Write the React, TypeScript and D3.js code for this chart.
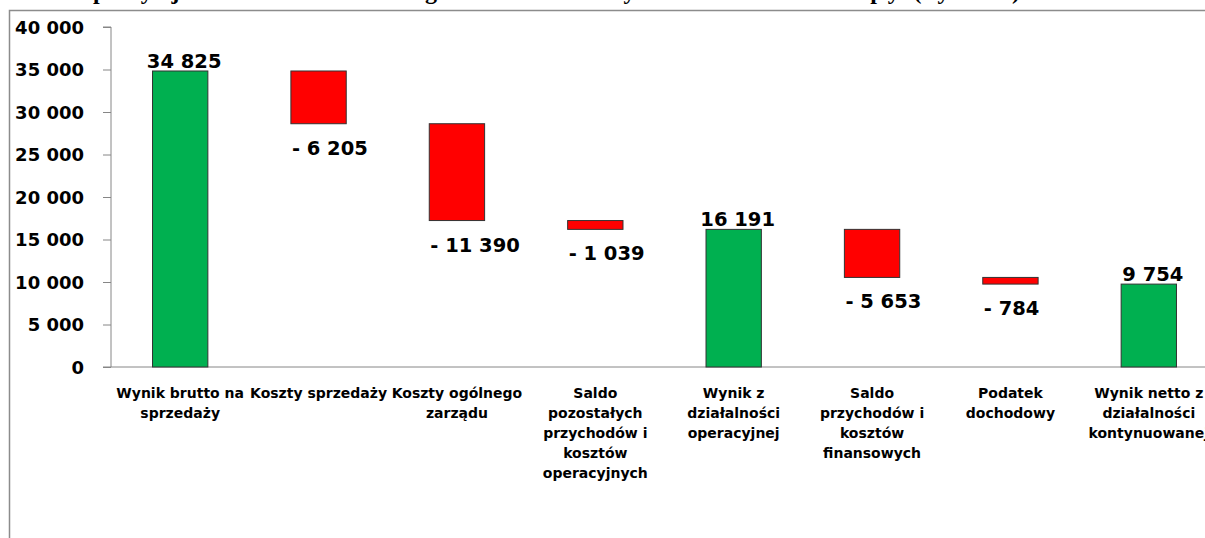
import React, { useEffect, useRef } from 'react';
import * as d3 from 'd3';

const categories = [
  ['Wynik brutto na', 'sprzedaży'],
  ['Koszty sprzedaży'],
  ['Koszty ogólnego', 'zarządu'],
  ['Saldo', 'pozostałych', 'przychodów i', 'kosztów', 'operacyjnych'],
  ['Wynik z', 'działalności', 'operacyjnej'],
  ['Saldo', 'przychodów i', 'kosztów', 'finansowych'],
  ['Podatek', 'dochodowy'],
  ['Wynik netto z', 'działalności', 'kontynuowanej'],
];
const values = [34825, -6205, -11390, -1039, 16191, -5653, -784, 9754];
const isTotal = [true, false, false, false, true, false, false, true];
const yTicks = [0, 5000, 10000, 15000, 20000, 25000, 30000, 35000, 40000];
const title = 'Wybrane pozycje skonsolidowanego rachunku zysków i strat Grupy (tys. zł)';

const W = 1205;
const H = 538;

const App = () => {
  const ref = useRef<SVGSVGElement>(null);

  useEffect(() => {
    if (!ref.current) return;
    const svg = d3.select(ref.current);
    svg.selectAll('*').remove();

    const font = '"DejaVu Sans", sans-serif';
    const locale = d3.formatLocale({ thousands: ' ', grouping: [3], decimal: ',', currency: ['', ''] });
    const fmt = locale.format(',d');

    const x = d3.scaleBand<number>()
      .domain(d3.range(categories.length))
      .range([111, 1218])
      .paddingInner(0.6)
      .paddingOuter(0.3);

    const y = d3.scaleLinear().domain([0, 40000]).range([367, 27]);

    // frame (chart area border, cut by the page)
    svg.append('path')
      .attr('d', `M9.5,${H} V10.5 H${W}`)
      .attr('fill', 'none')
      .attr('stroke', '#8c8c8c')
      .attr('stroke-width', 1.5);

    // title, cut off above the picture
    svg.append('text')
      .attr('x', -40)
      .attr('y', -1.5)
      .attr('font-family', '"Liberation Serif", serif')
      .attr('font-weight', 'bold')
      .attr('font-size', 24)
      .attr('textLength', 1060)
      .text(title);

    // y axis
    const gy = svg.append('g').attr('transform', 'translate(111,0)');
    gy.call(d3.axisLeft(y).tickValues(yTicks).tickSize(8).tickFormat(d => fmt(+d)));
    gy.select('.domain').attr('stroke', '#868686').attr('d', `M-8,${y(40000)}H0V${y(0)}H-8`);
    gy.selectAll('.tick line').attr('stroke', '#868686');
    gy.selectAll('.tick text')
      .attr('x', -27)
      .attr('dy', '0.36em')
      .attr('fill', '#000')
      .style('font-family', font)
      .style('font-weight', 'bold')
      .style('font-size', '18px');

    // x axis baseline
    svg.append('line')
      .attr('x1', 111).attr('x2', W)
      .attr('y1', y(0)).attr('y2', y(0))
      .attr('stroke', '#868686');

    // waterfall bars
    let running = 0;
    const bars = values.map((v, i) => {
      let lo: number, hi: number;
      if (isTotal[i]) {
        lo = 0; hi = v; running = v;
      } else {
        const start = running;
        running = running + v;
        lo = Math.min(start, running);
        hi = Math.max(start, running);
      }
      return { i, v, lo, hi, total: isTotal[i] };
    });

    svg.append('g')
      .selectAll('rect')
      .data(bars)
      .join('rect')
      .attr('x', d => x(d.i)!)
      .attr('width', x.bandwidth())
      .attr('y', d => y(d.hi))
      .attr('height', d => y(d.lo) - y(d.hi))
      .attr('fill', d => (d.total ? '#00B050' : '#FF0000'))
      .attr('stroke', '#333')
      .attr('stroke-width', 1);

    // value labels
    svg.append('g')
      .selectAll('text')
      .data(bars)
      .join('text')
      .attr('x', d => (d.total ? x(d.i)! + x.bandwidth() / 2 + 4 : x(d.i)! + 1))
      .attr('y', d => (d.total ? y(d.hi) - 3 : y(d.lo) + 31))
      .attr('text-anchor', d => (d.total ? 'middle' : 'start'))
      .style('font-family', font)
      .style('font-weight', 'bold')
      .style('font-size', '19.5px')
      .text(d => (d.total ? fmt(d.v) : `- ${fmt(Math.abs(d.v))}`));

    // category labels
    const cg = svg.append('g');
    categories.forEach((lines, i) => {
      const t = cg.append('text')
        .attr('text-anchor', 'middle')
        .style('font-family', font)
        .style('font-weight', 'bold')
        .style('font-size', '14px');
      lines.forEach((ln, j) => {
        t.append('tspan')
          .attr('x', x(i)! + x.bandwidth() / 2)
          .attr('y', 398 + j * 20)
          .text(ln);
      });
    });
  }, []);

  return (
    <div style={{ position: 'absolute', left: 0, top: 0 }}>
      <svg ref={ref} width={W} height={H} style={{ display: 'block', background: '#fff' }} />
    </div>
  );
};

export default App;
